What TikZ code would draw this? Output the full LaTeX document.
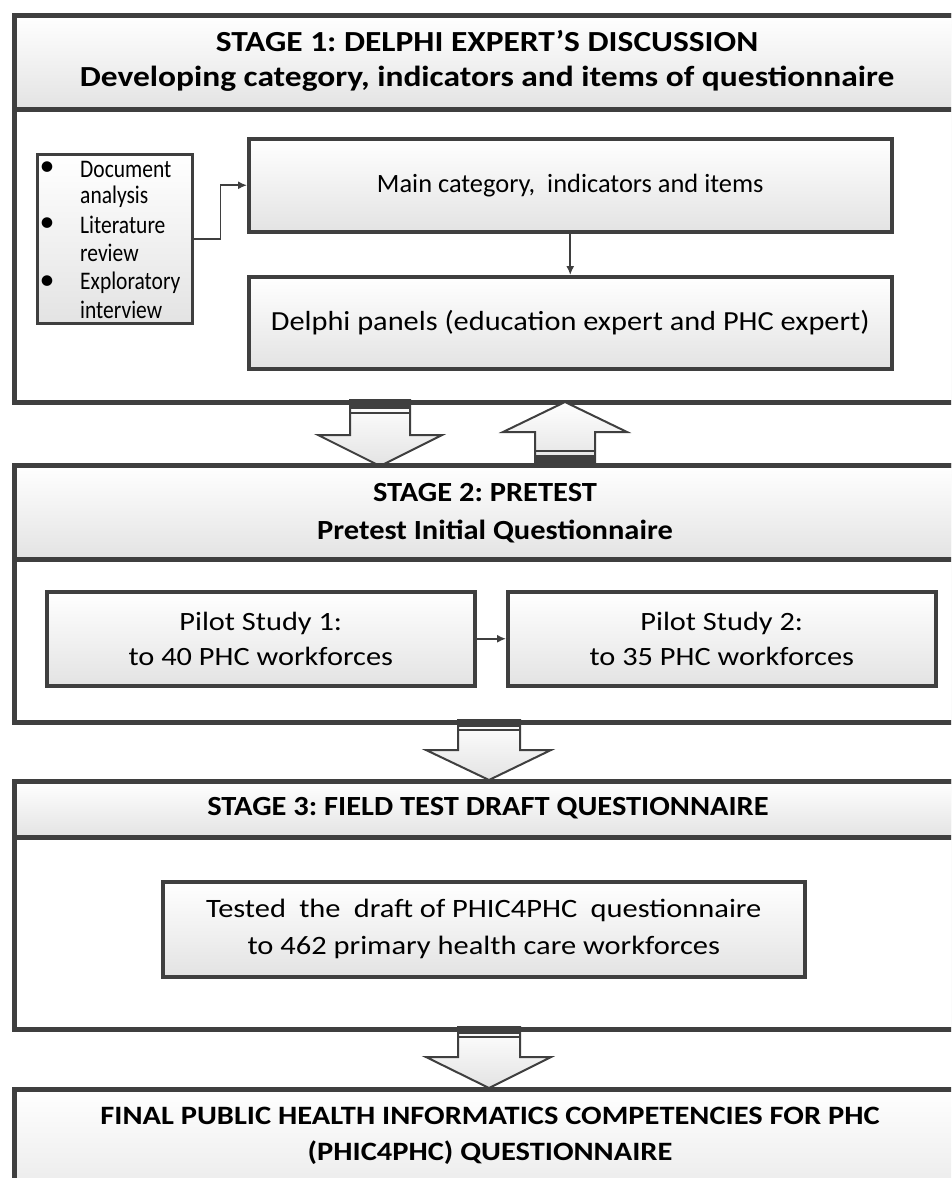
\documentclass[tikz,border=0pt]{standalone}
\usepackage{fontspec}
\setmainfont{Carlito}
\newfontfamily\widefont{Carlito}[FakeStretch=1.15]
\newfontfamily\midfont{Carlito}[FakeStretch=1.1]
\newfontfamily\narrowfont{Carlito}[FakeStretch=0.85]
\usetikzlibrary{shadows,calc,arrows.meta}
\definecolor{edge}{HTML}{3F3F3F}
\definecolor{shadeb}{HTML}{E3E3E3}
\frenchspacing
\begin{document}
\begin{tikzpicture}[x=1pt,y=-1pt,
  outerbox/.style={draw=edge,line width=5pt,fill=white,anchor=north west,inner sep=0pt,
     drop shadow={shadow xshift=2pt,shadow yshift=-2pt,opacity=0.25}},
  headbox/.style={draw=edge,line width=5pt,top color=white,bottom color=shadeb,anchor=north west,inner sep=0pt},
  innerbox/.style={draw=edge,line width=3.5pt,top color=white,bottom color=shadeb,anchor=north west,inner sep=0pt,
     drop shadow={shadow xshift=2pt,shadow yshift=-2pt,opacity=0.25}},
  conn/.style={draw=edge,line width=1.6pt,-{Latex[length=9pt,width=8pt]}},
  blockarrow/.style={draw=edge,line width=2pt,top color=white,bottom color=shadeb,line join=miter},
  captxt/.style={font=\widefont\fontsize{29.1}{35}\selectfont\bfseries,align=center},
  headtxt/.style={font=\midfont\fontsize{27.7}{38}\selectfont\bfseries,align=center},
  boxtxt/.style={font=\widefont\fontsize{26.4}{35}\selectfont,align=center},
  listtxt/.style={font=\narrowfont\fontsize{25.3}{28}\selectfont,anchor=west,inner sep=0pt},
  bullettxt/.style={font=\fontsize{30}{30}\selectfont,inner sep=0pt},
]
\useasboundingbox (0,0) rectangle (951,1178);
\clip (0,0) rectangle (951,1178);

% ---------- STAGE 1 ----------
\node[outerbox,minimum width=980pt,minimum height=387pt] (s1) at (12,13) {};
\node[headbox,minimum width=980pt,minimum height=94pt] (s1h) at (12,13) {};
\node[captxt] (s1t) at (487,61) {STAGE 1: DELPHI EXPERT’S DISCUSSION\\Developing category, indicators and items of questionnaire};

\node[innerbox,minimum width=155pt,minimum height=169pt,line width=2.5pt] (blist) at (36,153) {};
\node[bullettxt] (b1) at (47,169) {\textbullet};
\node[listtxt] (l1) at (80,169) {Document};
\node[listtxt] (l2) at (80,197) {analysis};
\node[bullettxt] (b2) at (47,225) {\textbullet};
\node[listtxt] (l3) at (80,225) {Literature};
\node[listtxt] (l4) at (80,253) {review};
\node[bullettxt] (b3) at (47,283) {\textbullet};
\node[listtxt] (l5) at (80,283) {Exploratory};
\node[listtxt] (l6) at (80,310) {interview};

\node[innerbox,minimum width=643pt,minimum height=93pt] (main) at (247,137) {};
\node[font=\fontsize{26.4}{30}\selectfont] (maint) at (main.center) {Main category,\ \ indicators and items};
\node[innerbox,minimum width=643pt,minimum height=92pt] (delphi) at (247,275) {};
\node[font=\midfont\fontsize{27.6}{35}\selectfont] (delphit) at (delphi.center) {Delphi panels (education expert and PHC expert)};

\draw[conn] (blist.east) -- ++(27,0) |- (main.west);
\draw[conn] (main.south) -- (delphi.north);

% ---------- block arrows 1/2 ----------
\draw[blockarrow] (350,400) -- (410,400) -- (410,435) -- (442,435) -- (380,466) -- (318,435) -- (350,435) -- cycle;
\fill[edge] (350,400) rectangle (410,409);
\draw[edge,line width=2pt] (350,413) -- (410,413);

\draw[blockarrow] (535,463) -- (595,463) -- (595,432) -- (627,432) -- (565,402) -- (503,432) -- (535,432) -- cycle;
\fill[edge] (535,463) rectangle (595,455);
\draw[edge,line width=2pt] (535,451) -- (595,451);

% ---------- STAGE 2 ----------
\node[outerbox,minimum width=980pt,minimum height=257pt] (s2) at (12,463) {};
\node[headbox,minimum width=980pt,minimum height=94pt] (s2h) at (12,463) {};
\node[headtxt] (s2t1) at (485,493) {STAGE 2: PRETEST};
\node[headtxt] (s2t2) at (495,531) {Pretest Initial Questionnaire};

\node[innerbox,minimum width=428pt,minimum height=94pt] (p1) at (45,590) {};
\node[boxtxt] (p1t) at (p1.center) {Pilot Study 1:\\to 40 PHC workforces};
\node[innerbox,minimum width=428pt,minimum height=94pt] (p2) at (506,590) {};
\node[boxtxt] (p2t) at (p2.center) {Pilot Study 2:\\to 35 PHC workforces};
\draw[conn] (p1.east) -- (p2.west);

% ---------- block arrow 3 ----------
\draw[blockarrow] (458,720) -- (520,720) -- (520,750) -- (551,750) -- (489,780) -- (426,750) -- (458,750) -- cycle;
\fill[edge] (458,720) rectangle (520,727);
\draw[edge,line width=2pt] (458,730) -- (520,730);

% ---------- STAGE 3 ----------
\node[outerbox,minimum width=980pt,minimum height=248pt] (s3) at (12,779) {};
\node[headbox,minimum width=980pt,minimum height=56pt] (s3h) at (12,779) {};
\node[headtxt] (s3t) at (488,808) {STAGE 3: FIELD TEST DRAFT QUESTIONNAIRE};

\node[innerbox,minimum width=642pt,minimum height=95pt] (test) at (161,880) {};
\node[boxtxt,font=\widefont\fontsize{26.5}{37}\selectfont] (testt) at (test.center) {Tested\hspace{0.5em}the\hspace{0.5em}draft of PHIC4PHC\hspace{0.5em}questionnaire\\to 462 primary health care workforces};

% ---------- block arrow 4 ----------
\draw[blockarrow] (458,1027) -- (520,1027) -- (520,1057) -- (551,1057) -- (489,1088) -- (426,1057) -- (458,1057) -- cycle;
\fill[edge] (458,1027) rectangle (520,1034);
\draw[edge,line width=2pt] (458,1037) -- (520,1037);

% ---------- FINAL ----------
\node[headbox,minimum width=980pt,minimum height=140pt] (fin) at (12,1087) {};
\node[align=center,font=\widefont\fontsize{26.5}{36}\selectfont\bfseries] (fint) at (490,1136) {FINAL PUBLIC HEALTH INFORMATICS COMPETENCIES FOR PHC\\(PHIC4PHC) QUESTIONNAIRE};
\end{tikzpicture}
\end{document}
